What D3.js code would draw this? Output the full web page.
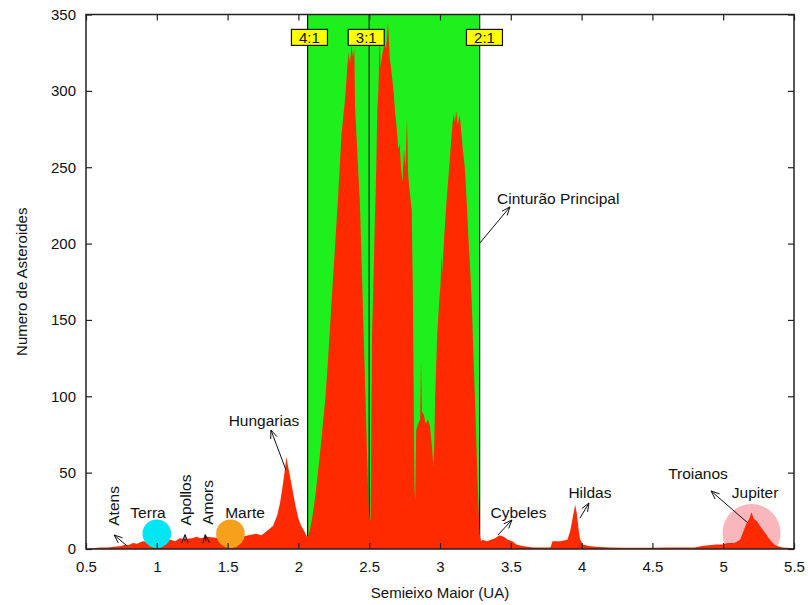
<!DOCTYPE html>
<html>
<head>
<meta charset="utf-8">
<script src="https://cdn.jsdelivr.net/npm/d3@7"></script>
<style>
  body { margin: 0; background: #fff; }
  text { font-family: "Liberation Sans", Arial, Helvetica, sans-serif; fill: #111; }
</style>
</head>
<body>
<div id="chart"></div>
<script>
// Histogram: [semi-major axis (UA), number of asteroids]
const nearEarth = [
  [0.50, 0], [0.55, 0.5], [0.60, 1], [0.65, 1], [0.70, 1.5], [0.75, 2], [0.78, 3], [0.80, 2.5],
  [0.83, 4], [0.86, 3.5], [0.90, 5], [0.95, 4.5], [1.00, 5], [1.05, 5.5], [1.10, 6], [1.13, 5],
  [1.16, 7], [1.20, 6.5], [1.25, 7], [1.28, 8], [1.31, 7], [1.35, 8], [1.40, 7.5], [1.45, 7],
  [1.50, 7], [1.55, 7.5], [1.60, 8], [1.65, 9], [1.70, 10], [1.74, 9], [1.78, 12], [1.82, 15],
  [1.85, 22], [1.87, 30], [1.89, 42], [1.905, 52], [1.915, 60], [1.925, 55], [1.94, 48],
  [1.96, 38], [1.98, 28], [2.00, 20], [2.02, 15], [2.04, 12], [2.06, 8]
];
const mainBelt = [
  [2.07, 9], [2.08, 12], [2.10, 22], [2.12, 35], [2.15, 60], [2.19, 98], [2.21, 125], [2.235, 163],
  [2.26, 200], [2.28, 230], [2.305, 272], [2.33, 295], [2.345, 315], [2.355, 325], [2.365, 318],
  [2.375, 330], [2.385, 322], [2.395, 328], [2.40, 290], [2.415, 262], [2.435, 225], [2.455, 160],
  [2.475, 95], [2.495, 30], [2.505, 18],
  [2.51, 20], [2.515, 80], [2.52, 140], [2.53, 175], [2.54, 215], [2.55, 250], [2.557, 287],
  [2.565, 300], [2.575, 340], [2.58, 315], [2.59, 322], [2.605, 330], [2.62, 328], [2.633, 345],
  [2.645, 322], [2.66, 310], [2.672, 300], [2.682, 287], [2.695, 275], [2.705, 262], [2.715, 265],
  [2.725, 250], [2.735, 240], [2.745, 262], [2.755, 250], [2.767, 282], [2.775, 245], [2.785, 235],
  [2.80, 222], [2.805, 190], [2.81, 156], [2.815, 91], [2.82, 40], [2.825, 32],
  [2.832, 78], [2.845, 82], [2.86, 85], [2.866, 124], [2.872, 90], [2.885, 88], [2.90, 82],
  [2.915, 85], [2.93, 80], [2.945, 65], [2.953, 54],
  [2.96, 70], [2.965, 98], [2.98, 140], [2.995, 163], [3.005, 175], [3.01, 194], [3.015, 180],
  [3.03, 205], [3.047, 229], [3.065, 250], [3.083, 272], [3.095, 285], [3.105, 280], [3.115, 287],
  [3.125, 278], [3.14, 284], [3.155, 268], [3.165, 258], [3.175, 250], [3.19, 225], [3.20, 205],
  [3.215, 180], [3.225, 160], [3.235, 130], [3.247, 98], [3.26, 60], [3.27, 32], [3.28, 10], [3.29, 5]
];
const outerBelt = [
  [3.30, 6], [3.33, 5], [3.36, 6], [3.39, 7], [3.42, 9], [3.45, 8], [3.48, 6], [3.51, 5],
  [3.54, 3], [3.58, 2], [3.62, 1.5], [3.66, 1], [3.72, 1], [3.78, 1], [3.795, 5], [3.85, 5],
  [3.90, 6], [3.92, 12], [3.94, 22], [3.955, 29], [3.965, 24], [3.98, 12], [3.99, 6], [4.01, 3],
  [4.05, 2], [4.10, 1.5], [4.20, 1], [4.30, 0.8], [4.40, 0.8], [4.50, 0.8], [4.60, 1], [4.70, 1],
  [4.80, 1], [4.85, 2], [4.90, 2.5], [4.95, 3], [5.00, 3], [5.03, 4], [5.08, 4], [5.12, 6],
  [5.14, 11], [5.166, 17], [5.185, 20], [5.20, 24], [5.215, 20], [5.24, 18], [5.26, 15],
  [5.30, 10], [5.33, 6], [5.36, 3], [5.38, 2], [5.42, 1], [5.50, 0.5]
];

// Main belt zone and Kirkwood resonances
const beltZone = [2.065, 3.28];
const resonances = ["4:1", "3:1", "2:1"];
const resonanceA = [2.065, 2.5, 3.28];
const resonanceLabelA = [2.078, 2.479, 3.314];

// Planets: name, semi-major axis, height where the disc sits
const planets = ["Terra", "Marte", "Jupiter"];
const planetA = [1.0, 1.52, 5.2];
const planetN = [10, 10, 10.5];

const xTicks = [0.5, 1, 1.5, 2, 2.5, 3, 3.5, 4, 4.5, 5, 5.5];
const yTicks = [0, 50, 100, 150, 200, 250, 300, 350];

const width = 808, height = 605;
const margin = { top: 14.5, right: 14, bottom: 56, left: 86 };

const svg = d3.select("#chart").append("svg")
  .attr("width", width)
  .attr("height", height);

const x = d3.scaleLinear().domain([0.5, 5.5]).range([margin.left, width - margin.right]);
const y = d3.scaleLinear().domain([0, 350]).range([height - margin.bottom, margin.top]);

svg.append("clipPath").attr("id", "plot")
  .append("rect")
  .attr("x", x(0.5)).attr("y", y(350))
  .attr("width", x(5.5) - x(0.5)).attr("height", y(0) - y(350));

const plot = svg.append("g").attr("clip-path", "url(#plot)");

// Jupiter disc sits behind the histogram
plot.append("circle")
  .attr("cx", x(planetA[2])).attr("cy", y(planetN[2])).attr("r", 29)
  .style("fill", "#f9b6bb");

// green main belt zone
plot.append("rect")
  .attr("x", x(beltZone[0])).attr("y", y(350))
  .attr("width", x(beltZone[1]) - x(beltZone[0]))
  .attr("height", y(0) - y(350))
  .style("fill", "#1ef01e");

plot.selectAll(".res-line")
  .data(resonanceA)
  .enter().append("line")
  .attr("x1", d => x(d)).attr("x2", d => x(d))
  .attr("y1", y(350)).attr("y2", y(0))
  .style("stroke", "#111").style("stroke-width", 1.2);

// histogram
const histogram = nearEarth.concat(mainBelt, outerBelt);
const area = d3.area()
  .x(d => x(d[0]))
  .y0(y(0))
  .y1(d => y(d[1]));

plot.append("path")
  .datum(histogram)
  .attr("d", area)
  .style("fill", "#ff2a00");

// Terra and Marte discs on top
const discColours = ["#00e6f2", "#f7a01c"];
plot.selectAll(".disc")
  .data([0, 1])
  .enter().append("circle")
  .attr("cx", i => x(planetA[i]))
  .attr("cy", i => y(planetN[i]))
  .attr("r", 14.3)
  .style("fill", i => discColours[i]);

// annotations
function arrow(a1, n1, a2, n2) {
  const x1 = x(a1), y1 = y(n1), x2 = x(a2), y2 = y(n2);
  const ang = Math.atan2(y2 - y1, x2 - x1);
  const len = 9, spread = 0.38;
  const g = svg.append("g").style("stroke", "#111").style("stroke-width", 1).style("fill", "none");
  g.append("line").attr("x1", x1).attr("y1", y1).attr("x2", x2).attr("y2", y2);
  g.append("path").attr("d",
    `M${x2 - len * Math.cos(ang - spread)},${y2 - len * Math.sin(ang - spread)}` +
    `L${x2},${y2}` +
    `L${x2 - len * Math.cos(ang + spread)},${y2 - len * Math.sin(ang + spread)}`);
}

function label(txt, a, n, opts = {}) {
  return svg.append("text")
    .attr("transform", `translate(${x(a)},${y(n)})` + (opts.rotate ? " rotate(-90)" : ""))
    .attr("dy", "0.35em")
    .style("font-size", "15.5px")
    .style("text-anchor", opts.anchor || "middle")
    .text(txt);
}

label("Atens", 0.698, 28.2, { rotate: true });
label("Terra", 0.938, 23.6);
label("Apollos", 1.206, 32.1, { rotate: true });
label("Amors", 1.358, 30.5, { rotate: true });
label("Marte", 1.623, 23.6);
label("Hungarias", 1.757, 83.8);
label("Cinturão Principal", 3.403, 229.2, { anchor: "start" });
label("Cybeles", 3.554, 23.6);
label("Hildas", 4.059, 36.7);
label("Troianos", 4.822, 49.1);
label("Jupiter", 5.225, 36.7);

arrow(0.790, 2.0, 0.698, 9.2);
arrow(1.199, 5.0, 1.199, 9.4);
arrow(1.347, 5.0, 1.342, 9.4);
arrow(1.912, 51.7, 1.806, 77.9);
arrow(3.282, 200.4, 3.494, 224.0);
arrow(3.410, 9.2, 3.508, 19.0);
arrow(3.989, 20.3, 4.052, 30.1);
arrow(5.175, 17.0, 4.914, 38.0);

// resonance boxes
const boxes = svg.selectAll(".res-box")
  .data(resonances)
  .enter().append("g")
  .attr("transform", (d, i) => `translate(${x(resonanceLabelA[i])},${y(335)})`);
boxes.append("rect")
  .attr("x", -18).attr("y", -8).attr("width", 36).attr("height", 16)
  .style("fill", "#ffff00").style("stroke", "#111").style("stroke-width", 1.2);
boxes.append("text")
  .attr("dy", "0.36em")
  .style("font-size", "15px")
  .style("text-anchor", "middle")
  .text(d => d);

// axes with inward ticks on all four sides
const fmt = d => String(d);
const bottomAxis = svg.append("g")
  .attr("transform", `translate(0,${y(0)})`)
  .call(d3.axisBottom(x).tickValues(xTicks).tickFormat(fmt).tickSize(-6).tickPadding(12));
const topAxis = svg.append("g")
  .attr("transform", `translate(0,${y(350)})`)
  .call(d3.axisTop(x).tickValues(xTicks).tickFormat("").tickSize(-6));
const leftAxis = svg.append("g")
  .attr("transform", `translate(${x(0.5)},0)`)
  .call(d3.axisLeft(y).tickValues(yTicks).tickSize(-6).tickPadding(10));
const rightAxis = svg.append("g")
  .attr("transform", `translate(${x(5.5)},0)`)
  .call(d3.axisRight(y).tickValues(yTicks).tickFormat("").tickSize(-6));

[bottomAxis, topAxis, leftAxis, rightAxis].forEach(g => {
  g.select(".domain").remove();
  g.selectAll(".tick line").style("stroke", "#222").style("stroke-width", 1.2);
  g.selectAll("text")
    .style("font-size", "15px")
    .style("font-family", "'Liberation Sans', Arial, sans-serif")
    .style("fill", "#111");
});

svg.append("rect")
  .attr("x", x(0.5)).attr("y", y(350))
  .attr("width", x(5.5) - x(0.5)).attr("height", y(0) - y(350))
  .style("fill", "none").style("stroke", "#222").style("stroke-width", 1.5);

// axis titles
svg.append("text")
  .attr("x", (x(0.5) + x(5.5)) / 2)
  .attr("y", 598)
  .style("text-anchor", "middle")
  .style("font-size", "15px")
  .text("Semieixo Maior (UA)");

svg.append("text")
  .attr("transform", `translate(27,${(y(0) + y(350)) / 2}) rotate(-90)`)
  .style("text-anchor", "middle")
  .style("font-size", "15px")
  .text("Numero de Asteroides");
</script>
</body>
</html>
